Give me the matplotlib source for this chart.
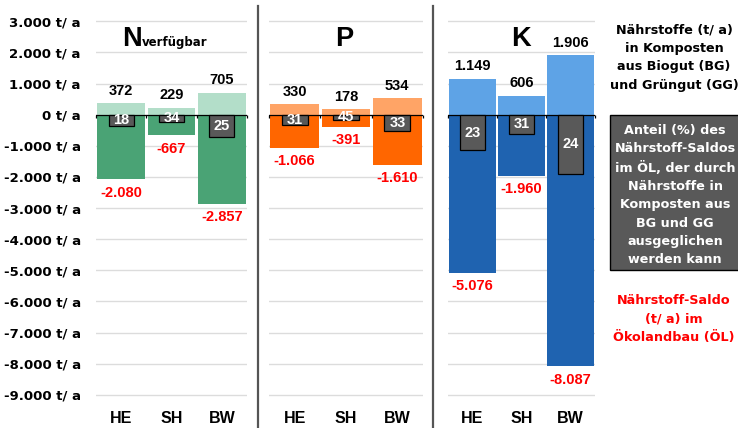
import matplotlib
matplotlib.use("Agg")
import matplotlib.pyplot as plt
from matplotlib.patches import Rectangle
from matplotlib.lines import Line2D

# Federal states
categories = ["HE", "SH", "BW"]

# Nutrients in composts from Biogut/Grüngut (t/a), nutrient balance in organic farming (t/a),
# and share (%) of the balance that compost nutrients can offset
n_compost = [372, 229, 705]
n_saldo = [-2080, -667, -2857]
n_share = [18, 34, 25]

p_compost = [330, 178, 534]
p_saldo = [-1066, -391, -1610]
p_share = [31, 45, 33]

k_compost = [1149, 606, 1906]
k_saldo = [-5076, -1960, -8087]
k_share = [23, 31, 24]

y_ticks = list(range(3000, -9001, -1000))

info_compost = "Nährstoffe (t/ a)\nin Komposten\naus Biogut (BG)\nund Grüngut (GG)"
info_share = ("Anteil (%) des\nNährstoff-Saldos\nim ÖL, der durch\nNährstoffe in\n"
              "Komposten aus\nBG und GG\nausgeglichen\nwerden kann")
info_saldo = "Nährstoff-Saldo\n(t/ a) im\nÖkolandbau (ÖL)"

NUM = "Liberation Sans"
TXT = "DejaVu Sans"

W, H = 738, 428
fig = plt.figure(figsize=(W / 100, H / 100), dpi=100)


def fx(px):
    return px / W


def fy(py):
    return 1 - py / H


def fmt(v):
    return f"{v:,}".replace(",", ".")


Y_TOP, Y_BOT = 3100, -9100
AX_TOP, AX_BOT = 18.2, 398.0

panels = [
    dict(left=96, right=247, compost=n_compost, saldo=n_saldo, share=n_share,
         light="#b3dec9", dark="#4aa375"),
    dict(left=269, right=423, compost=p_compost, saldo=p_saldo, share=p_share,
         light="#ffa466", dark="#ff6600"),
    dict(left=448, right=595, compost=k_compost, saldo=k_saldo, share=k_share,
         light="#5ea3e6", dark="#1f63b0"),
]

x = list(range(len(categories)))
for i, p in enumerate(panels):
    ax = fig.add_axes([fx(p["left"]), fy(AX_BOT), fx(p["right"]) - fx(p["left"]),
                       fy(AX_TOP) - fy(AX_BOT)])
    ax.set_xlim(-0.5, 2.5)
    ax.set_ylim(Y_BOT, Y_TOP)
    for s in ax.spines.values():
        s.set_visible(False)
    ax.set_yticks(y_ticks)
    ax.yaxis.grid(True, color="#dcdcdc", lw=1.0)
    ax.set_axisbelow(True)
    ax.tick_params(axis="both", length=0)
    if i == 0:
        ax.set_yticklabels([fmt(t) + " t/ a" for t in y_ticks], fontfamily=TXT,
                           fontweight="bold", fontsize=9.5)
        ax.tick_params(axis="y", pad=11)
    else:
        ax.set_yticklabels([])
    ax.set_xticks(x)
    ax.set_xticklabels(categories, fontfamily=NUM, fontweight="bold", fontsize=11.5)
    ax.tick_params(axis="x", pad=9.5)

    ax.bar(x, p["compost"], width=0.95, color=p["light"], zorder=2)
    ax.bar(x, p["saldo"], width=0.95, color=p["dark"], zorder=2)
    ax.axhline(0, color="black", lw=0.9, zorder=3)
    ax.vlines([-0.5, 0.5, 1.5, 2.5], -110, 0, color="black", lw=0.9, zorder=3,
              clip_on=False)
    ax.bar(x, [-c for c in p["compost"]], width=0.5, color="#595959",
           edgecolor="black", lw=0.9, zorder=4)

    for xi, c, s, sh in zip(x, p["compost"], p["saldo"], p["share"]):
        ax.annotate(fmt(c), (xi, c), xytext=(0, 9), textcoords="offset points",
                    ha="center", va="center", fontfamily=NUM, fontweight="bold",
                    fontsize=10.5, color="black", zorder=5)
        ax.annotate(fmt(s), (xi, s), xytext=(0, -9.7), textcoords="offset points",
                    ha="center", va="center", fontfamily=NUM, fontweight="bold",
                    fontsize=10.5, color="#ff0000", zorder=5)
        ax.text(xi, -c / 2, str(sh), ha="center", va="center", fontfamily=NUM,
                fontweight="bold", fontsize=10.5, color="white", zorder=5)

# Panel titles
fig.text(fx(122), fy(45.7), "N", ha="left", va="baseline", fontfamily=NUM,
         fontweight="bold", fontsize=19.5)
fig.text(fx(142), fy(45.7), "verfügbar", ha="left", va="baseline", fontfamily=TXT,
         fontweight="bold", fontsize=8.5)
fig.text(fx(344), fy(45.7), "P", ha="center", va="baseline", fontfamily=NUM,
         fontweight="bold", fontsize=19.5)
fig.text(fx(521), fy(45.7), "K", ha="center", va="baseline", fontfamily=NUM,
         fontweight="bold", fontsize=19.5)

# Panel separators
for sx in (258, 433):
    fig.add_artist(Line2D([fx(sx), fx(sx)], [fy(6), fy(428)], color="#555555", lw=1.6))

# Explanatory texts on the right
fig.text(fx(674), fy(57.5), info_compost, ha="center", va="center", fontfamily=TXT,
         fontweight="bold", fontsize=9.2, linespacing=1.56, color="black")
fig.add_artist(Rectangle((fx(610), fy(270)), fx(750) - fx(610), fy(115) - fy(270),
                         transform=fig.transFigure, facecolor="#595959",
                         edgecolor="black", lw=1.0))
fig.text(fx(675), fy(195), info_share, ha="center", va="center", fontfamily=TXT,
         fontweight="bold", fontsize=9.2, linespacing=1.53, color="white")
fig.text(fx(674), fy(319), info_saldo, ha="center", va="center", fontfamily=TXT,
         fontweight="bold", fontsize=9.2, linespacing=1.6, color="#ff0000")

fig.savefig("out.png", dpi=100)
